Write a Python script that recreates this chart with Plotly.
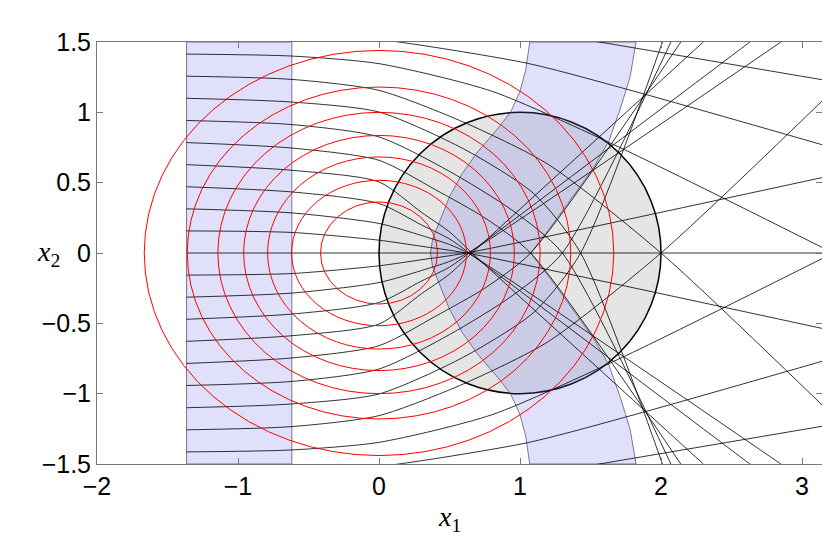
import plotly.graph_objects as go

# ---------------- data ----------------
x_ticks = [-2, -1, 0, 1, 2, 3]
x_tick_text = ["\u22122", "\u22121", "0", "1", "2", "3"]
y_ticks = [-1.5, -1, -0.5, 0, 0.5, 1, 1.5]
y_tick_text = ["\u22121.5", "\u22121", "\u22120.5", "0", "0.5", "1", "1.5"]

# red level curves: semi-axes
ell_a = [0.415, 0.62, 0.79, 0.96, 1.143, 1.36, 1.665]
ell_b = [0.363, 0.517, 0.683, 0.836, 1.0, 1.18, 1.44]

# disk
disk_center = (1.0, 0.0)
disk_radius = 1.0

# left vertical band
band_x0, band_x1 = -1.365, -0.618

# curved band, upper half (lower half is its mirror image)
cb_left_y = [0.0, 0.1, 0.21, 0.40, 0.565, 0.72, 0.87, 1.0, 1.15, 1.3, 1.5]
cb_left_x = [0.365, 0.38, 0.424, 0.50, 0.59, 0.70, 0.83, 0.933, 1.00, 1.04, 1.069]
cb_right_y = [0.0, 0.185, 0.446, 0.62, 0.80, 1.038, 1.25, 1.5]
cb_right_x = [1.075, 1.218, 1.407, 1.53, 1.632, 1.715, 1.78, 1.823]

# rays of the upper half (the lower half is their mirror image)
ray_x = [
    [-1.365, -0.618, 0.0, 0.30, 0.62, 3.1416],
    [-1.365, -0.618, 0.0, 0.30, 0.50, 0.63, 2.85],
    [-1.365, -0.618, 0.0, 0.30, 0.50, 0.64, 2.63],
    [-1.365, -0.618, 0.0, 0.30, 0.50, 0.66, 2.30],
    [-1.365, -0.618, 0.0, 0.40, 0.75, 1.075, 2.14],
    [-1.365, -0.618, 0.0, 0.50, 0.95, 1.30, 2.07],
    [-1.365, -0.618, 0.0, 0.60, 1.10, 1.43, 2.01],
    [-1.365, -0.618, 0.0, 0.60, 1.20, 2.00, 3.1416],
    [-1.365, -0.618, 0.0, 0.80, 1.71, 3.1416],
    [-0.40, 0.14, 1.055, 1.787, 3.1416],
    [1.00, 1.56, 1.71, 3.1416],
]
ray_y = [
    [0.157, 0.146, 0.091, 0.048, 0.0, -0.536],
    [0.314, 0.285, 0.210, 0.125, 0.06, 0.0, -1.5],
    [0.471, 0.434, 0.352, 0.20, 0.10, 0.0, -1.5],
    [0.628, 0.588, 0.505, 0.29, 0.15, 0.0, -1.5],
    [0.785, 0.746, 0.659, 0.45, 0.25, 0.0, -1.5],
    [0.942, 0.913, 0.825, 0.58, 0.30, 0.0, -1.5],
    [1.100, 1.073, 1.002, 0.74, 0.42, 0.0, -1.5],
    [1.257, 1.234, 1.156, 0.93, 0.63, 0.0, -1.08],
    [1.414, 1.400, 1.346, 1.15, 0.749, 0.04],
    [1.555, 1.50, 1.348, 1.156, 0.77],
    [1.58, 1.50, 1.475, 1.232],
]

# ---------------- figure ----------------
fig = go.Figure()

fig.add_shape(type="rect", xref="x", yref="y", x0=band_x0, x1=band_x1, y0=-1.5, y1=1.5,
              fillcolor="rgba(100,100,230,0.2)", line=dict(color="rgba(90,90,120,0.8)", width=1),
              layer="below")
fig.add_shape(type="circle", xref="x", yref="y",
              x0=disk_center[0] - disk_radius, x1=disk_center[0] + disk_radius,
              y0=disk_center[1] - disk_radius, y1=disk_center[1] + disk_radius,
              fillcolor="rgb(229,229,229)", line=dict(color="black", width=1.5), layer="below")

# curved band polygon: left boundary bottom->top, then right boundary top->bottom
lx = cb_left_x[::-1] + cb_left_x[1:]
ly = [-v for v in cb_left_y[::-1]] + cb_left_y[1:]
rx = cb_right_x[::-1] + cb_right_x[1:]
ry = cb_right_y[::-1] + [-v for v in cb_right_y[1:]]
fig.add_trace(go.Scatter(x=lx + rx + [lx[0]], y=ly + ry + [ly[0]], mode="lines", fill="toself",
                         fillcolor="rgba(100,100,230,0.2)",
                         line=dict(color="rgba(90,90,120,0.8)", width=1),
                         hoverinfo="skip", showlegend=False))

# red ellipses
for a, b in zip(ell_a, ell_b):
    fig.add_shape(type="circle", xref="x", yref="y", x0=-a, x1=a, y0=-b, y1=b,
                  line=dict(color="red", width=1), layer="above")

# rays
ray_line = dict(color="rgba(0,0,0,0.8)", width=1, shape="spline", smoothing=0.7)
for xs, ys in zip(ray_x, ray_y):
    fig.add_trace(go.Scatter(x=xs, y=ys, mode="lines", line=ray_line,
                             hoverinfo="skip", showlegend=False))
    fig.add_trace(go.Scatter(x=xs, y=[-v for v in ys], mode="lines", line=ray_line,
                             hoverinfo="skip", showlegend=False))
fig.add_trace(go.Scatter(x=[band_x0, 3.1416], y=[0, 0], mode="lines",
                         line=dict(color="rgba(0,0,0,0.8)", width=1), hoverinfo="skip", showlegend=False))

axis_common = dict(showgrid=False, zeroline=False, showline=True, linecolor="#777", linewidth=1,
                   ticks="inside", ticklen=6, tickcolor="#777", mirror="allticks",
                   tickfont=dict(family="Liberation Sans, Arial, sans-serif", size=25, color="black"))
fig.update_xaxes(range=[-2, 3.1416], tickvals=x_ticks, ticktext=x_tick_text, **axis_common)
fig.update_yaxes(range=[-1.5, 1.5], tickvals=y_ticks, ticktext=y_tick_text, **axis_common)

fig.add_annotation(text="<i>x</i><sub>1</sub>", xref="x", yref="paper", x=0.5, y=-0.128,
                   showarrow=False, font=dict(family="Liberation Serif, serif", size=28, color="black"),
                   yanchor="middle")
fig.add_annotation(text="<i>x</i><sub>2</sub>", xref="paper", yref="y", x=-0.048, y=0,
                   showarrow=False, font=dict(family="Liberation Serif, serif", size=28, color="black"),
                   xanchor="right", yanchor="middle")

# page body adds an 8px offset; figure is sized so the plot area lands where the reference has it
fig.update_layout(width=822, height=534, margin=dict(l=89, r=8, t=34, b=78),
                  plot_bgcolor="white", paper_bgcolor="white")
fig.write_html("out.html")
